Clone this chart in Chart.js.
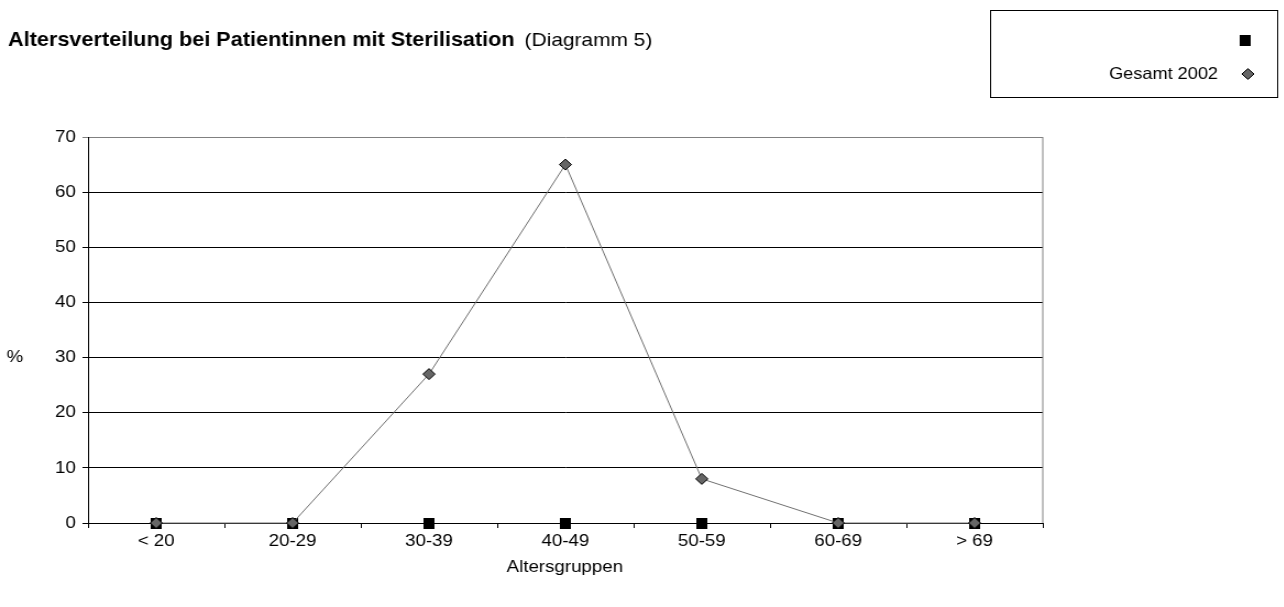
<!DOCTYPE html>
<html><head><meta charset="utf-8">
<script src="https://cdn.jsdelivr.net/npm/chart.js@4/dist/chart.umd.min.js"></script>
<style>
html,body{margin:0;padding:0;background:#fff;overflow:hidden;}
#wrap{position:absolute;left:0;top:0;width:1168px;height:607px;transform:scaleX(1.1);transform-origin:0 0;}
canvas{display:block}
</style></head><body>
<div id="wrap"><canvas id="c" width="1168" height="607"></canvas></div>
<script>
const categories = ['< 20','20-29','30-39','40-49','50-59','60-69','> 69'];
const seriesBlank = [0,0,0,0,0,0,0];
const seriesGesamt2002 = [0,0,27,65,8,0,0];
const seriesLabels = ['', 'Gesamt 2002'];
const yMin = 0, yMax = 70, yStep = 10;
const titleBold = 'Altersverteilung bei Patientinnen mit Sterilisation';
const titleRegular = '(Diagramm 5)';
const yTitle = '%';
const xTitle = 'Altersgruppen';

const FONT = "'Liberation Sans', Arial, sans-serif";

// square marker image (logical units; page is stretched horizontally by 1.1)
const sq = document.createElement('canvas');
sq.width = 10; sq.height = 11;
(function(){ const g = sq.getContext('2d'); g.fillStyle = '#000'; g.fillRect(0,0,10,11); })();

function drawMarker(ctx, ds, x, y) {
  const st = ds.pointStyle;
  if (st instanceof HTMLCanvasElement) {
    ctx.drawImage(st, x - st.width/2, y - st.height/2);
    return;
  }
  const r = ds.pointRadius;
  ctx.beginPath();
  ctx.moveTo(x, y - r); ctx.lineTo(x + r, y); ctx.lineTo(x, y + r); ctx.lineTo(x - r, y); ctx.closePath();
  ctx.fillStyle = ds.pointBackgroundColor; ctx.fill();
  ctx.lineWidth = ds.pointBorderWidth; ctx.strokeStyle = ds.pointBorderColor; ctx.stroke();
}

const decor = {
  id: 'decor',
  afterDraw(chart) {
    const ctx = chart.ctx, ca = chart.chartArea;
    ctx.save();
    // right border of plot
    ctx.strokeStyle = '#808080'; ctx.lineWidth = 1;
    ctx.beginPath(); ctx.moveTo(ca.right, ca.top); ctx.lineTo(ca.right, ca.bottom); ctx.stroke();
    // title
    ctx.fillStyle = '#000'; ctx.textBaseline = 'middle'; ctx.textAlign = 'left';
    ctx.font = "bold 19.7px " + FONT;
    ctx.fillText(titleBold, 7.3, 41);
    const w = ctx.measureText(titleBold).width;
    ctx.font = "19px " + FONT;
    ctx.fillText(titleRegular, 7.3 + w + 9, 41);
    // axis titles
    ctx.font = "17px " + FONT; ctx.textAlign = 'center';
    ctx.fillText(yTitle, 13.6, 357);
    ctx.fillText(xTitle, (ca.left + ca.right)/2 - 0.5, 567);
    // legend box
    ctx.strokeStyle = '#000'; ctx.lineWidth = 1;
    ctx.strokeRect(900.5, 10.5, 261, 87);
    const rows = [40, 74];
    chart.data.datasets.forEach((ds, i) => {
      const y = rows[i];
      ctx.fillStyle = '#000'; ctx.textAlign = 'right'; ctx.font = "16.5px " + FONT;
      ctx.fillText(ds.label, 1107.3, y);
      drawMarker(ctx, ds, ds.pointStyle instanceof HTMLCanvasElement ? 1131.8 : 1134.5, y);
    });
    ctx.restore();
  }
};

new Chart(document.getElementById('c'), {
  type: 'line',
  data: {
    labels: categories,
    datasets: [
      { label: seriesLabels[0], data: seriesBlank, showLine: false, pointStyle: sq, clip: false,
        pointRadius: 6, pointHoverRadius: 6, order: 1,
        pointBackgroundColor: '#000', pointBorderColor: '#000', backgroundColor: '#000', borderColor: '#000' },
      { label: seriesLabels[1], data: seriesGesamt2002, borderColor: '#707070', borderWidth: 1, clip: false,
        pointStyle: 'rectRot', pointRadius: 5.5, pointHoverRadius: 5.5, order: 0,
        pointBackgroundColor: '#666666', pointBorderColor: '#000', pointBorderWidth: 1,
        backgroundColor: '#666666', tension: 0, fill: false }
    ]
  },
  options: {
    responsive: false, animation: false, events: [],
    devicePixelRatio: 1,
    layout: { padding: { top: 137, right: 220, bottom: 0, left: 0 } },
    plugins: { legend: { display: false }, tooltip: { enabled: false }, title: { display: false } },
    scales: {
      x: {
        offset: true,
        grid: { offset: true, drawOnChartArea: false, drawTicks: true, tickLength: 5, color: '#000' },
        border: { color: '#000', width: 1 },
        ticks: { color: '#000', font: { family: FONT, size: 17 }, padding: 3, maxRotation: 0, autoSkip: false },
        afterFit(s) { s.height = 84; }
      },
      y: {
        min: yMin, max: yMax,
        grid: { color: (c) => (c.tick && c.tick.value === yMax ? '#808080' : '#000'), tickLength: 5, lineWidth: 1 },
        border: { color: '#000', width: 1 },
        ticks: { stepSize: yStep, color: '#000', font: { family: FONT, size: 17 }, padding: 6 },
        afterFit(s) { s.width = 80; }
      }
    }
  },
  plugins: [decor]
});
</script>
</body></html>
